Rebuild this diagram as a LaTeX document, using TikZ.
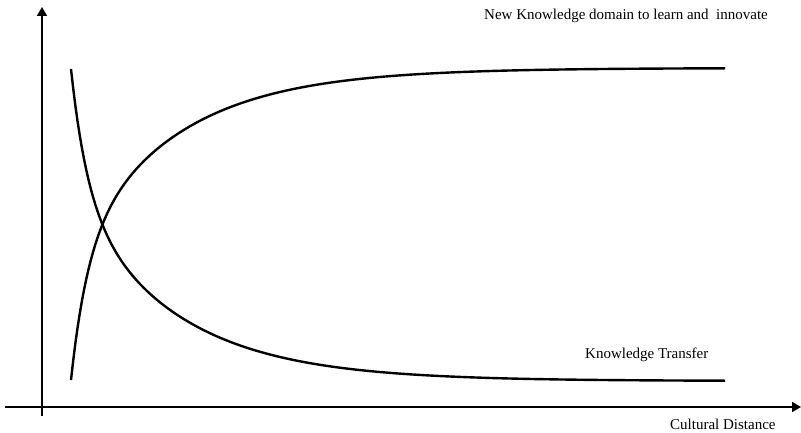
\documentclass[tikz,border=0pt]{standalone}
\usepackage{fontspec}
\setmainfont{Liberation Serif}
\usetikzlibrary{arrows.meta}
\begin{document}
\begin{tikzpicture}[x=1pt,y=-1pt,
  axis/.style={line width=1.6pt,-{Triangle[width=10pt,length=9pt]}},
  curve/.style={line width=2.4pt,line join=round},
  lbl/.style={anchor=base west,inner sep=0pt,font=\fontsize{15}{18}\selectfont}]
\useasboundingbox (0,0) rectangle (801,433);
% axes
\coordinate (yb) at (42,416);
\coordinate (yt) at (42,7);
\coordinate (xl) at (5,407);
\coordinate (xr) at (801,407);
\draw[axis] (yb) -- (yt);
\draw[axis] (xl) -- (xr);
% rising curve: new knowledge domain
\draw[curve] plot[domain=71:725,samples=300,variable=\t]
  (\t,{68+312*(0.4*exp(-0.06*(\t-71))+0.6*exp(-0.00983*(\t-71)))});
% falling curve: knowledge transfer
\draw[curve] plot[domain=71:725,samples=300,variable=\t]
  (\t,{381-312*(0.4*exp(-0.06*(\t-71))+0.6*exp(-0.00983*(\t-71)))});
% labels
\node[lbl] (nk) at (484,19.5) {New Knowledge domain to learn and~ innovate};
\node[lbl] (kt) at (585,358) {Knowledge Transfer};
\node[lbl] (cd) at (670,429) {Cultural Distance};
\end{tikzpicture}
\end{document}
